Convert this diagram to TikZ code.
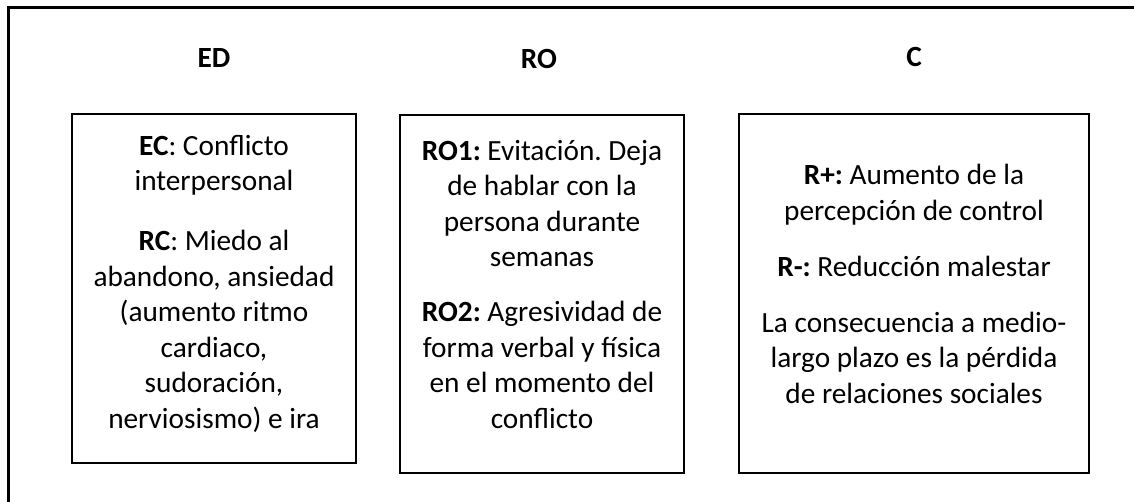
\documentclass[tikz,border=0pt]{standalone}
\usepackage{fontspec}
\setmainfont{Carlito}
\frenchspacing
\begin{document}
\begin{tikzpicture}[x=1pt,y=-1pt,
  boxstyle/.style={draw, line width=2pt, inner sep=0pt},
  txt/.style={align=center, inner sep=0pt, anchor=base, font=\fontsize{29.3}{35.5}\selectfont},
  head/.style={inner sep=0pt, anchor=base, font=\fontsize{29.3}{35.5}\selectfont\bfseries}]
\path[use as bounding box] (0,0) rectangle (1134,502);
\clip (0,0) rectangle (1134,502);
\draw[line width=3pt] (8.5,7.5) rectangle (1150,520);
% boxes
\draw[boxstyle] (72,114) rectangle (356,463) node[midway] (b1) {};
\draw[boxstyle] (400,115) rectangle (684,473) node[midway] (b2) {};
\draw[boxstyle] (739,114) rectangle (1089,473) node[midway] (b3) {};
% headers
\node[head] (h1) at (214,68) {ED};
\node[head] (h2) at (539,69) {RO};
\node[head] (h3) at (914,67) {C};
% texts (anchored at the baseline of the last line)
\node[txt] (t1) at (214,428) {\textbf{EC}: Conflicto\\interpersonal\\[24.5pt]\textbf{RC}: Miedo al\\abandono, ansiedad\\(aumento ritmo\\cardiaco,\\sudoración,\\nerviosismo) e ira};
\node[txt] (t2) at (542,428) {\textbf{RO1:} Evitación. Deja\\de hablar con la\\persona durante\\semanas\\[19.5pt]\textbf{RO2:} Agresividad de\\forma verbal y física\\en el momento del\\conflicto};
\node[txt] (t3) at (914,403) {\textbf{R+:} Aumento de la\\percepción de control\\[21pt]\textbf{R-:} Reducción malestar\\[20pt]La consecuencia a medio-\\largo plazo es la pérdida\\de relaciones sociales};
\end{tikzpicture}
\end{document}
